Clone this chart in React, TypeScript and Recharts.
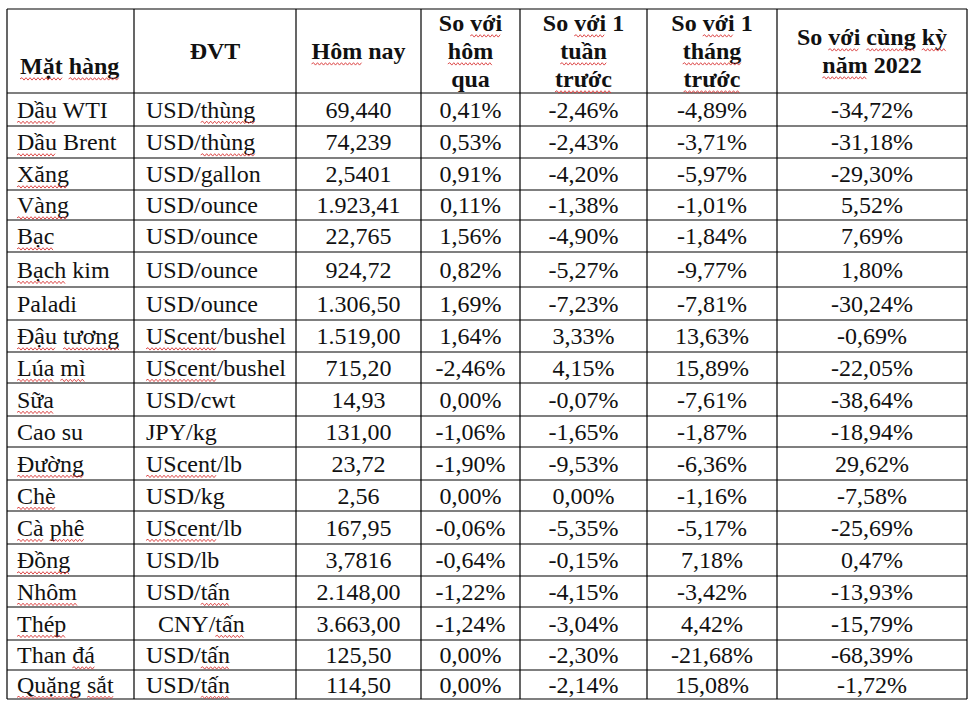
import { ReferenceLine, Scatter, ScatterChart, XAxis, YAxis } from "recharts";

const headers = [
  ["Mặt hàng"],
  ["ĐVT"],
  ["Hôm nay"],
  ["So với", "hôm", "qua"],
  ["So với 1", "tuần", "trước"],
  ["So với 1", "tháng", "trước"],
  ["So với cùng kỳ", "năm 2022"],
];

const items = [
  "Dầu WTI", "Dầu Brent", "Xăng", "Vàng", "Bạc", "Bạch kim", "Paladi",
  "Đậu tương", "Lúa mì", "Sữa", "Cao su", "Đường", "Chè", "Cà phê",
  "Đồng", "Nhôm", "Thép", "Than đá", "Quặng sắt",
];

const units = [
  "USD/thùng", "USD/thùng", "USD/gallon", "USD/ounce", "USD/ounce", "USD/ounce",
  "USD/ounce", "UScent/bushel", "UScent/bushel", "USD/cwt", "JPY/kg", "UScent/lb",
  "USD/kg", "UScent/lb", "USD/lb", "USD/tấn", "CNY/tấn", "USD/tấn", "USD/tấn",
];

const today = [
  "69,440", "74,239", "2,5401", "1.923,41", "22,765", "924,72", "1.306,50",
  "1.519,00", "715,20", "14,93", "131,00", "23,72", "2,56", "167,95",
  "3,7816", "2.148,00", "3.663,00", "125,50", "114,50",
];

const vsYesterday = [
  "0,41%", "0,53%", "0,91%", "0,11%", "1,56%", "0,82%", "1,69%", "1,64%",
  "-2,46%", "0,00%", "-1,06%", "-1,90%", "0,00%", "-0,06%", "-0,64%",
  "-1,22%", "-1,24%", "0,00%", "0,00%",
];

const vsWeek = [
  "-2,46%", "-2,43%", "-4,20%", "-1,38%", "-4,90%", "-5,27%", "-7,23%",
  "3,33%", "4,15%", "-0,07%", "-1,65%", "-9,53%", "0,00%", "-5,35%",
  "-0,15%", "-4,15%", "-3,04%", "-2,30%", "-2,14%",
];

const vsMonth = [
  "-4,89%", "-3,71%", "-5,97%", "-1,01%", "-1,84%", "-9,77%", "-7,81%",
  "13,63%", "15,89%", "-7,61%", "-1,87%", "-6,36%", "-1,16%", "-5,17%",
  "7,18%", "-3,42%", "4,42%", "-21,68%", "15,08%",
];

const vsYear = [
  "-34,72%", "-31,18%", "-29,30%", "5,52%", "7,69%", "1,80%", "-30,24%",
  "-0,69%", "-22,05%", "-38,64%", "-18,94%", "29,62%", "-7,58%", "-25,69%",
  "0,47%", "-13,93%", "-15,79%", "-68,39%", "-1,72%",
];

// words Word flagged with the red spell-check squiggle
const flagged = new Set([
  "Mặt", "hàng", "Hôm", "với", "hôm", "tuần", "trước", "tháng", "cùng", "kỳ",
  "năm", "Dầu", "thùng", "Xăng", "Vàng", "Bạc", "Bạch", "Đậu", "tương",
  "UScent", "Lúa", "mì", "Sữa", "Đường", "Chè", "Cà", "phê", "Đồng", "Nhôm",
  "Thép", "đá", "tấn", "Quặng", "sắt",
]);

// table layout (page pixels)
const W = 972;
const H = 709;
const colEdges = [7, 134, 296, 421, 520, 647, 777, 967];
const rowEdges = [
  9, 93, 126, 158, 190, 220, 252, 287, 320, 352, 383, 416, 447, 480, 511,
  544, 576, 607, 640, 670, 699,
];
const FONT = "'Liberation Serif', 'Times New Roman', serif";
const SIZE = 24;
const LINE_H = 28;

type Cell = { x: number; y: number; text: string; bold: boolean; anchor: string };

const columns = [items, units, today, vsYesterday, vsWeek, vsMonth, vsYear];

const cells: Cell[] = [];
headers.forEach((lines, c) => {
  const left = c === 0;
  const x = left ? colEdges[c] + 13 : (colEdges[c] + colEdges[c + 1]) / 2;
  const mid = left ? 66 : (rowEdges[0] + rowEdges[1]) / 2;
  lines.forEach((t, i) => {
    cells.push({
      x,
      y: mid + (i - (lines.length - 1) / 2) * LINE_H,
      text: t,
      bold: true,
      anchor: left ? "start" : "middle",
    });
  });
});
columns.forEach((col, c) => {
  col.forEach((t, r) => {
    const y = (rowEdges[r + 1] + rowEdges[r + 2]) / 2;
    let x = (colEdges[c] + colEdges[c + 1]) / 2;
    let anchor = "middle";
    if (c === 0) { x = colEdges[0] + 10; anchor = "start"; }
    if (c === 1) { x = colEdges[1] + 12; anchor = "start"; }
    if (c === 1 && t.startsWith("CNY")) x += 12;
    cells.push({ x, y, text: t, bold: false, anchor });
  });
});

let ctx: CanvasRenderingContext2D | null = null;
function measure(s: string, bold: boolean) {
  if (!ctx) ctx = document.createElement("canvas").getContext("2d");
  if (!ctx) return s.length * SIZE * 0.5;
  ctx.font = `${bold ? "bold " : ""}${SIZE}px 'Liberation Serif'`;
  return ctx.measureText(s).width;
}

function squiggle(x0: number, x1: number, y: number) {
  let d = `M${x0.toFixed(1)},${y}`;
  let up = true;
  for (let x = x0 + 2; x <= x1; x += 2) {
    d += ` L${x.toFixed(1)},${up ? y - 1.2 : y + 1.2}`;
    up = !up;
  }
  return d;
}

const CellText = (props: any) => {
  const p = props.payload as Cell;
  const cx = props.cx as number;
  const cy = props.cy as number;
  const total = measure(p.text, p.bold);
  let x = p.anchor === "middle" ? cx - total / 2 : cx;
  const baseline = cy + SIZE * 0.35;
  const marks: string[] = [];
  p.text.split(/(\s+|\/)/).filter((s) => s.length > 0).forEach((s) => {
    const w = measure(s, p.bold);
    if (flagged.has(s)) marks.push(squiggle(x, x + w, baseline + 4.5));
    x += w;
  });
  return (
    <g>
      <text
        x={cx}
        y={cy}
        dy="0.35em"
        textAnchor={p.anchor as any}
        fontFamily={FONT}
        fontSize={SIZE}
        fontWeight={p.bold ? 700 : 400}
        fill="#111"
      >
        {p.text}
      </text>
      {marks.map((d, i) => (
        <path key={i} d={d} fill="none" stroke="#d93a3a" strokeWidth={0.9} />
      ))}
    </g>
  );
};

export default function App() {
  const top = rowEdges[0];
  const bottom = rowEdges[rowEdges.length - 1];
  const left = colEdges[0];
  const right = colEdges[colEdges.length - 1];
  return (
    <div style={{ position: "absolute", left: 0, top: 0, background: "#fff" }}>
      <ScatterChart width={W} height={H} margin={{ top: 0, right: 0, bottom: 0, left: 0 }}>
        <XAxis type="number" dataKey="x" domain={[0, W]} hide allowDataOverflow />
        <YAxis type="number" dataKey="y" domain={[0, H]} reversed hide allowDataOverflow />
        {colEdges.map((x) => (
          <ReferenceLine
            key={`c${x}`}
            segment={[{ x, y: top }, { x, y: bottom }]}
            stroke="#000"
            strokeWidth={1.2}
            ifOverflow="visible"
          />
        ))}
        {rowEdges.map((y) => (
          <ReferenceLine
            key={`r${y}`}
            segment={[{ x: left, y }, { x: right, y }]}
            stroke="#000"
            strokeWidth={1.2}
            ifOverflow="visible"
          />
        ))}
        <Scatter data={cells} shape={CellText} isAnimationActive={false} />
      </ScatterChart>
    </div>
  );
}
